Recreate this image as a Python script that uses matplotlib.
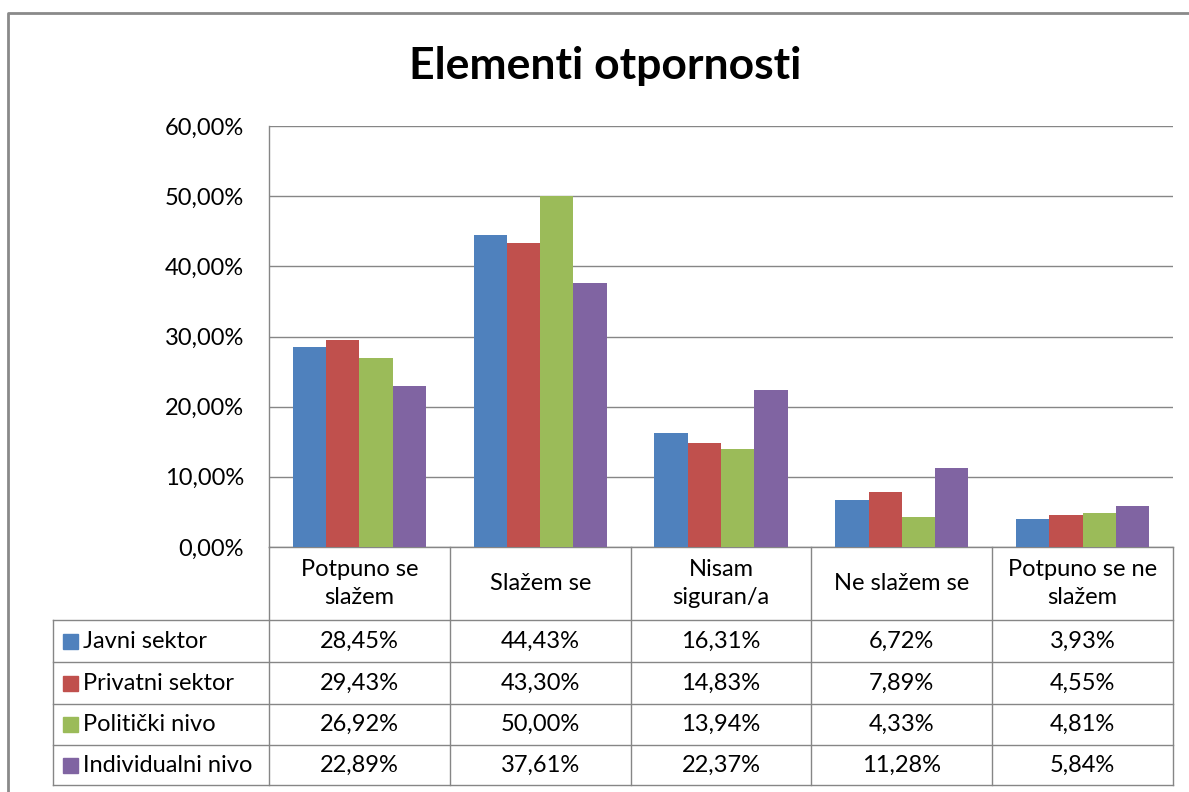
import numpy as np
import matplotlib.pyplot as plt
from matplotlib.lines import Line2D

plt.rcParams['font.family'] = ['Lato', 'DejaVu Sans']

# data
categories = ['Potpuno se\nslažem', 'Slažem se', 'Nisam\nsiguran/a', 'Ne slažem se', 'Potpuno se ne\nslažem']
series = ['Javni sektor', 'Privatni sektor', 'Politički nivo', 'Individualni nivo']
javni = [28.45, 44.43, 16.31, 6.72, 3.93]
privatni = [29.43, 43.30, 14.83, 7.89, 4.55]
politicki = [26.92, 50.00, 13.94, 4.33, 4.81]
individualni = [22.89, 37.61, 22.37, 11.28, 5.84]
values = [javni, privatni, politicki, individualni]
colors = ['#4F81BD', '#C0504D', '#9BBB59', '#8064A2']
yticks = [0, 10, 20, 30, 40, 50, 60]

W, H = 1189, 792
gray = '#868686'
fs = 17

def pct(v):
    return f'{v:.2f}%'.replace('.', ',')

fig = plt.figure(figsize=(W/100, H/100), dpi=100)

# plot area
ax = fig.add_axes([269/W, 1-547/H, (1173-269)/W, (547-126)/H])
x = np.arange(len(categories))
bw = 0.184
for i, (vals, c) in enumerate(zip(values, colors)):
    ax.bar(x + (i-1.5)*bw, vals, width=bw, color=c, zorder=3)
ax.set_xlim(-0.5, len(categories)-0.5)
ax.set_ylim(0, 60)
ax.set_yticks(yticks)
ax.set_yticklabels([pct(t) for t in yticks], fontsize=fs)
ax.set_xticks([])
ax.tick_params(axis='y', length=0, pad=18)
ax.yaxis.grid(True, color=gray, lw=1, zorder=0)
ax.set_axisbelow(True)
for s in ['top', 'right']:
    ax.spines[s].set_visible(False)
for s in ['left', 'bottom']:
    ax.spines[s].set_color(gray)
    ax.spines[s].set_linewidth(1)

fig.text(605/W, 1-66/H, 'Elementi otpornosti', ha='center', va='center',
         fontsize=32, fontweight='bold')

# data table below the plot
label_w = (269-53)/180.8
tab = fig.add_axes([53/W, 1-785/H, (1173-53)/W, (785-547)/H])
tab.set_xlim(-0.5-label_w, len(categories)-0.5)
rows = [0, 73, 115, 157, 198, 238]
tab.set_ylim(rows[-1], 0)
tab.axis('off')

left = -0.5 - label_w
for xv in np.arange(len(categories)+1) - 0.5:
    tab.plot([xv, xv], [rows[0], rows[-1]], color=gray, lw=1, clip_on=False)
tab.plot([left, left], [rows[1], rows[-1]], color=gray, lw=1, clip_on=False)
for yv in rows[1:]:
    tab.plot([left, len(categories)-0.5], [yv, yv], color=gray, lw=1, clip_on=False)

for j, cat in enumerate(categories):
    tab.text(j, (rows[0]+rows[1])/2, cat, ha='center', va='center',
             fontsize=fs, linespacing=1.45)

px = label_w / (269-53)
for i, (name, vals, c) in enumerate(zip(series, values, colors)):
    yc = (rows[i+1] + rows[i+2]) / 2
    tab.add_patch(plt.Rectangle((left + 10*px, yc - 7.5), 15*px, 15,
                                color=c, clip_on=False))
    tab.text(left + 30*px, yc, name, ha='left', va='center', fontsize=fs)
    for j, v in enumerate(vals):
        tab.text(j, yc, pct(v), ha='center', va='center', fontsize=fs)

# chart frame
fig.add_artist(Line2D([8/W, 8/W, 1], [0, 1-13/H, 1-13/H],
                      transform=fig.transFigure, color='#8a8a8a', lw=2))

fig.savefig('out.png', dpi=100, facecolor='white')
